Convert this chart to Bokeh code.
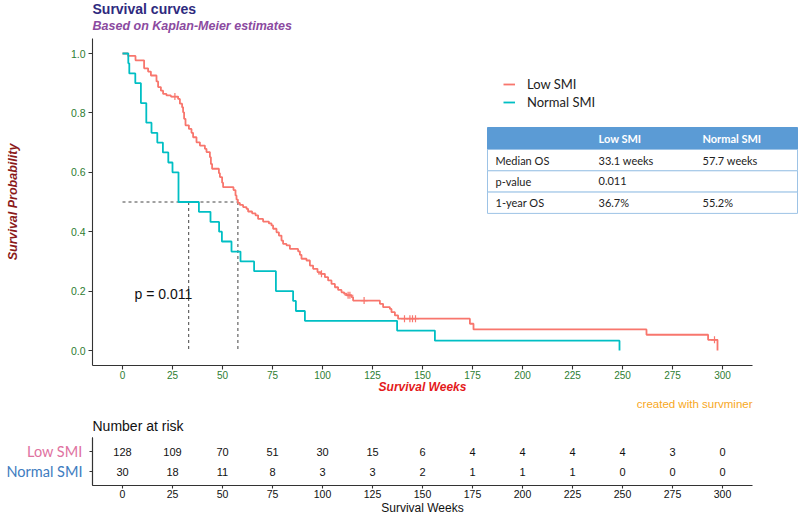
import numpy as np
from bokeh.plotting import figure
from bokeh.models import (Range1d, FixedTicker, Label, BoxAnnotation, Legend, LegendItem,
                          PrintfTickFormatter, LinearAxis)
from bokeh.layouts import column
from bokeh.embed import file_html
from bokeh.resources import INLINE
from bokeh.core.properties import value

# ---------------- data ----------------
low_t = [0, 2.8, 6.5, 10.8, 12.8, 14.2, 17.0, 17.8, 19.2, 20.3, 22.0, 24.2, 27.8, 28.7, 29.8,
         30.3, 30.8, 31.5, 33.2, 34.5, 35.3, 37.0, 38.7, 41.2, 42.0, 43.7, 44.2, 44.8, 48.2,
         48.7, 49.8, 50.3, 55.5, 56.5, 57.0, 57.7, 58.7, 60.3, 62.0, 62.8, 64.8, 66.5, 67.8,
         70.3, 73.2, 74.5, 75.3, 77.0, 78.2, 79.5, 80.3, 82.0, 83.7, 87.8, 88.7, 89.5, 92.0,
         93.7, 95.3, 97.5, 99.2, 101.2, 102.8, 104.5, 106.2, 107.8, 109.5, 110.8, 112.0,
         114.5, 115.3, 128.7, 130.3, 133.7, 134.5, 136.2, 137.8, 173.7, 175.5, 262.0, 292.8,
         297.5]
low_s = [1.0, 0.992, 0.977, 0.950, 0.939, 0.926, 0.906, 0.887, 0.875, 0.864, 0.859, 0.855,
         0.847, 0.831, 0.819, 0.802, 0.780, 0.758, 0.746, 0.733, 0.718, 0.701, 0.690, 0.679,
         0.668, 0.651, 0.628, 0.612, 0.597, 0.584, 0.565, 0.550, 0.540, 0.522, 0.508, 0.497,
         0.490, 0.483, 0.477, 0.468, 0.462, 0.455, 0.443, 0.434, 0.428, 0.421, 0.410, 0.398,
         0.387, 0.370, 0.359, 0.354, 0.342, 0.334, 0.322, 0.309, 0.303, 0.286, 0.275, 0.264,
         0.258, 0.247, 0.236, 0.224, 0.213, 0.204, 0.196, 0.191, 0.186, 0.180, 0.168, 0.157,
         0.146, 0.140, 0.129, 0.118, 0.107, 0.090, 0.071, 0.053, 0.036, 0.0]
normal_t = [0, 2.9, 3.4, 6.4, 9.2, 11.9, 14.5, 17.4, 20.2, 22.9, 25.0, 28.0, 38.2, 44.0, 48.3,
            49.7, 54.5, 59.0, 65.8, 76.7, 85.3, 86.7, 91.2, 137.3, 156.2, 248.5]
normal_s = [1.0, 0.967, 0.933, 0.900, 0.833, 0.767, 0.733, 0.700, 0.667, 0.633, 0.600, 0.500,
            0.467, 0.433, 0.400, 0.367, 0.333, 0.300, 0.267, 0.200, 0.167, 0.133, 0.100, 0.067,
            0.033, 0.0]
low_censor_t = [26.2, 99.5, 112.8, 113.7, 120.8, 141.0, 143.7, 145.0, 146.5, 296.0]
median_weeks = [33.1, 57.7]
median_level = 0.5
p_value_text = "p = 0.011"

risk_times = [0, 25, 50, 75, 100, 125, 150, 175, 200, 225, 250, 275, 300]
low_risk = [128, 109, 70, 51, 30, 15, 6, 4, 4, 4, 4, 3, 0]
normal_risk = [30, 18, 11, 8, 3, 3, 2, 1, 1, 1, 0, 0, 0]
group_names = ["Low SMI", "Normal SMI"]

table_header = ["", "Low SMI", "Normal SMI"]
table_rows = ["Median OS", "p-value", "1-year OS"]
table_low = ["33.1 weeks", "0.011", "36.7%"]
table_normal = ["57.7 weeks", "", "55.2%"]

x_ticks = [0, 25, 50, 75, 100, 125, 150, 175, 200, 225, 250, 275, 300]
y_ticks = [0.0, 0.2, 0.4, 0.6, 0.8, 1.0]

# ---------------- styles / geometry ----------------
RED = "#F8766D"
TEAL = "#00BFC4"
GREEN = "#2E7D32"
AXIS = "#333333"
ARIAL = "Liberation Sans"
CAL = "Lato"

W = 800
H1 = 410
H2 = 104
X0_PX, PX_PER_WK = 122, 2.0          # pixel of week 0, pixels per week
Y0_PX, PX_PER_UNIT = 350, 297.0      # pixel of survival 0, pixels per unit
XLIM = (-15, 315)
YLIM = (-0.05, 1.05)

x_start = (0 - X0_PX) / PX_PER_WK
x_end = (W - X0_PX) / PX_PER_WK
y_end = Y0_PX / PX_PER_UNIT
y_start = (Y0_PX - H1) / PX_PER_UNIT


def surv_at(ts, ss, t):
    i = np.searchsorted(np.array(ts), t, side="right") - 1
    return np.array(ss)[i]


low_censor_s = [float(surv_at(low_t, low_s, t)) for t in low_censor_t]


def style_axis(ax, tick_out, label_color, size):
    ax.axis_line_color = AXIS
    ax.axis_line_width = 1.1
    ax.major_tick_line_color = AXIS
    ax.major_tick_line_width = 1.1
    ax.major_tick_out = tick_out
    ax.major_tick_in = 0
    ax.minor_tick_line_color = None
    ax.major_label_text_color = label_color
    ax.major_label_text_font = ARIAL
    ax.major_label_text_font_size = size


# ---------------- main plot ----------------
p1 = figure(width=W, height=H1, x_range=Range1d(x_start, x_end), y_range=Range1d(y_start, y_end),
            output_backend="svg", toolbar_location=None,
            min_border_left=0, min_border_right=0, min_border_top=0, min_border_bottom=0)
p1.outline_line_color = None
p1.grid.visible = False
p1.background_fill_color = "white"
p1.border_fill_color = "white"

m1, m2 = median_weeks
p1.segment(x0=[0, m1, m2], y0=[median_level] * 3, x1=[max(median_weeks), m1, m2],
           y1=[median_level, 0, 0], line_color="#444444", line_width=1, line_dash="3 3")

r_low = p1.step(low_t, low_s, mode="after", line_color=RED, line_width=1.8)
r_norm = p1.step(normal_t, normal_s, mode="after", line_color=TEAL, line_width=1.8)
p1.scatter(low_censor_t, low_censor_s, marker="cross", size=7, line_color=RED, line_width=1.2)
leg_low = p1.scatter([], [], marker="cross", size=8, line_color=RED, line_width=1.3)
leg_norm = p1.scatter([], [], marker="cross", size=8, line_color=TEAL, line_width=1.3)

xa = p1.xaxis[0]
ya = p1.yaxis[0]
style_axis(xa, 4, GREEN, "10px")
style_axis(ya, 4, GREEN, "10.5px")
xa.fixed_location = YLIM[0]
xa.bounds = XLIM
xa.ticker = FixedTicker(ticks=x_ticks)
xa.major_label_standoff = 2
xa.axis_label = "Survival Weeks"
xa.axis_label_text_font = ARIAL
xa.axis_label_text_font_style = "bold italic"
xa.axis_label_text_color = "#E41A1C"
xa.axis_label_text_font_size = "12px"
xa.axis_label_standoff = -3

ya.fixed_location = XLIM[0]
ya.bounds = YLIM
ya.ticker = FixedTicker(ticks=y_ticks)
ya.formatter = PrintfTickFormatter(format="%.1f")
ya.major_label_standoff = 3
ya.axis_label = "Survival Probability"
ya.axis_label_text_font = ARIAL
ya.axis_label_text_font_style = "bold italic"
ya.axis_label_text_color = "#8B1A1A"
ya.axis_label_text_font_size = "12.5px"
ya.axis_label_standoff = 48

p1.add_layout(Label(x=6, y=0.19, text=p_value_text, text_font=ARIAL, text_font_size="14px",
                    text_color="#111111", text_align="left", text_baseline="middle"))


def screen_label(fig, h, x, y_page, text, **kw):
    fig.add_layout(Label(x=x, y=h - y_page, x_units="screen", y_units="screen", text=text,
                         text_baseline="middle", **kw))


screen_label(p1, H1, 92, 8, "Survival curves", text_font=ARIAL, text_font_size="14px",
             text_font_style="bold", text_color="#2E2A7E")
screen_label(p1, H1, 92, 25.5, "Based on Kaplan-Meier estimates", text_font=ARIAL,
             text_font_size="12.5px", text_font_style="bold italic", text_color="#8B4AA0")
screen_label(p1, H1, 752, 403.5, "created with survminer", text_font=ARIAL,
             text_font_size="11.5px", text_color="#F7A823", text_align="right")

legend = Legend(items=[LegendItem(label=group_names[0], renderers=[r_low, leg_low]),
                       LegendItem(label=group_names[1], renderers=[r_norm, leg_norm])],
                location=(503, H1 - 110))
legend.border_line_color = None
legend.background_fill_alpha = 0
legend.padding = 0
legend.margin = 0
legend.spacing = 2
legend.glyph_width = 12
legend.glyph_height = 14
legend.label_height = 14
legend.label_standoff = 12
legend.label_text_font = CAL
legend.label_text_font_size = "13px"
legend.label_text_color = "#222222"
p1.add_layout(legend)

# summary table
T_LEFT, T_RIGHT = 487, 797
T_TOP = 127
HEAD_H = 22
ROW_H = 21.3
col_x = [495, 598, 702]
LINE = "#9DC3E6"


def box(top_page, bottom_page, fill, line):
    p1.add_layout(BoxAnnotation(left=T_LEFT, right=T_RIGHT, top=H1 - top_page,
                                bottom=H1 - bottom_page, left_units="screen",
                                right_units="screen", top_units="screen", bottom_units="screen",
                                fill_color=fill, fill_alpha=1, line_color=line, line_alpha=1,
                                line_width=1))


box(T_TOP, T_TOP + HEAD_H, "#5B9BD5", "#5B9BD5")
for i in range(len(table_rows)):
    top = T_TOP + HEAD_H + i * ROW_H
    box(top, top + ROW_H, "white", LINE)
for j, h in enumerate(table_header):
    if h:
        screen_label(p1, H1, col_x[j], T_TOP + HEAD_H / 2, h, text_font=CAL,
                     text_font_size="11px", text_font_style="bold", text_color="white")
for i in range(len(table_rows)):
    yc = T_TOP + HEAD_H + i * ROW_H + ROW_H / 2
    for j, txt in enumerate([table_rows[i], table_low[i], table_normal[i]]):
        if txt:
            screen_label(p1, H1, col_x[j], yc, txt, text_font=CAL, text_font_size="11px",
                         text_color="#222222")

# ---------------- risk table ----------------
ROW_PX = 20.0              # pixels per row unit
LOW_ROW_PX = 41            # canvas y of the first row
row_pos = [1.5, 0.5]
RLIM = (-0.2, 2.2)
r_end = row_pos[0] + LOW_ROW_PX / ROW_PX
r_start = row_pos[0] - (H2 - LOW_ROW_PX) / ROW_PX

p2 = figure(width=W, height=H2, x_range=Range1d(x_start, x_end), y_range=Range1d(r_start, r_end),
            output_backend="svg", toolbar_location=None,
            min_border_left=0, min_border_right=0, min_border_top=0, min_border_bottom=0)
p2.outline_line_color = None
p2.grid.visible = False
p2.text(x=risk_times + risk_times,
        y=[row_pos[0]] * len(risk_times) + [row_pos[1]] * len(risk_times),
        text=[str(v) for v in low_risk + normal_risk],
        text_align="center", text_baseline="middle", text_font=value(ARIAL),
        text_font_size="11px", text_color="#111111")

xb = p2.xaxis[0]
style_axis(xb, 3, "#111111", "10.5px")
xb.fixed_location = RLIM[0]
xb.bounds = XLIM
xb.ticker = FixedTicker(ticks=risk_times)
xb.major_label_standoff = 1
xb.axis_label = "Survival Weeks"
xb.axis_label_text_font = ARIAL
xb.axis_label_text_font_style = "normal"
xb.axis_label_text_color = "#111111"
xb.axis_label_text_font_size = "12px"
xb.axis_label_standoff = 0

row_colors = ["#E0729F", "#3E7CC0"]
yb = p2.yaxis[0]
yaxes = [yb, LinearAxis()]
p2.add_layout(yaxes[1], "left")
for ax, name, yp, c in zip(yaxes, group_names, row_pos, row_colors):
    style_axis(ax, 3, c, "14.5px")
    ax.major_label_text_font = CAL
    ax.fixed_location = XLIM[0]
    ax.bounds = RLIM
    ax.ticker = FixedTicker(ticks=[yp])
    ax.major_label_overrides = {yp: name}
    ax.major_label_standoff = 7

screen_label(p2, H2, 92, 15, "Number at risk", text_font=ARIAL, text_font_size="14px",
             text_color="#111111")

layout = column(p1, p2, spacing=0)
open("out.html", "w").write(file_html(layout, INLINE))
